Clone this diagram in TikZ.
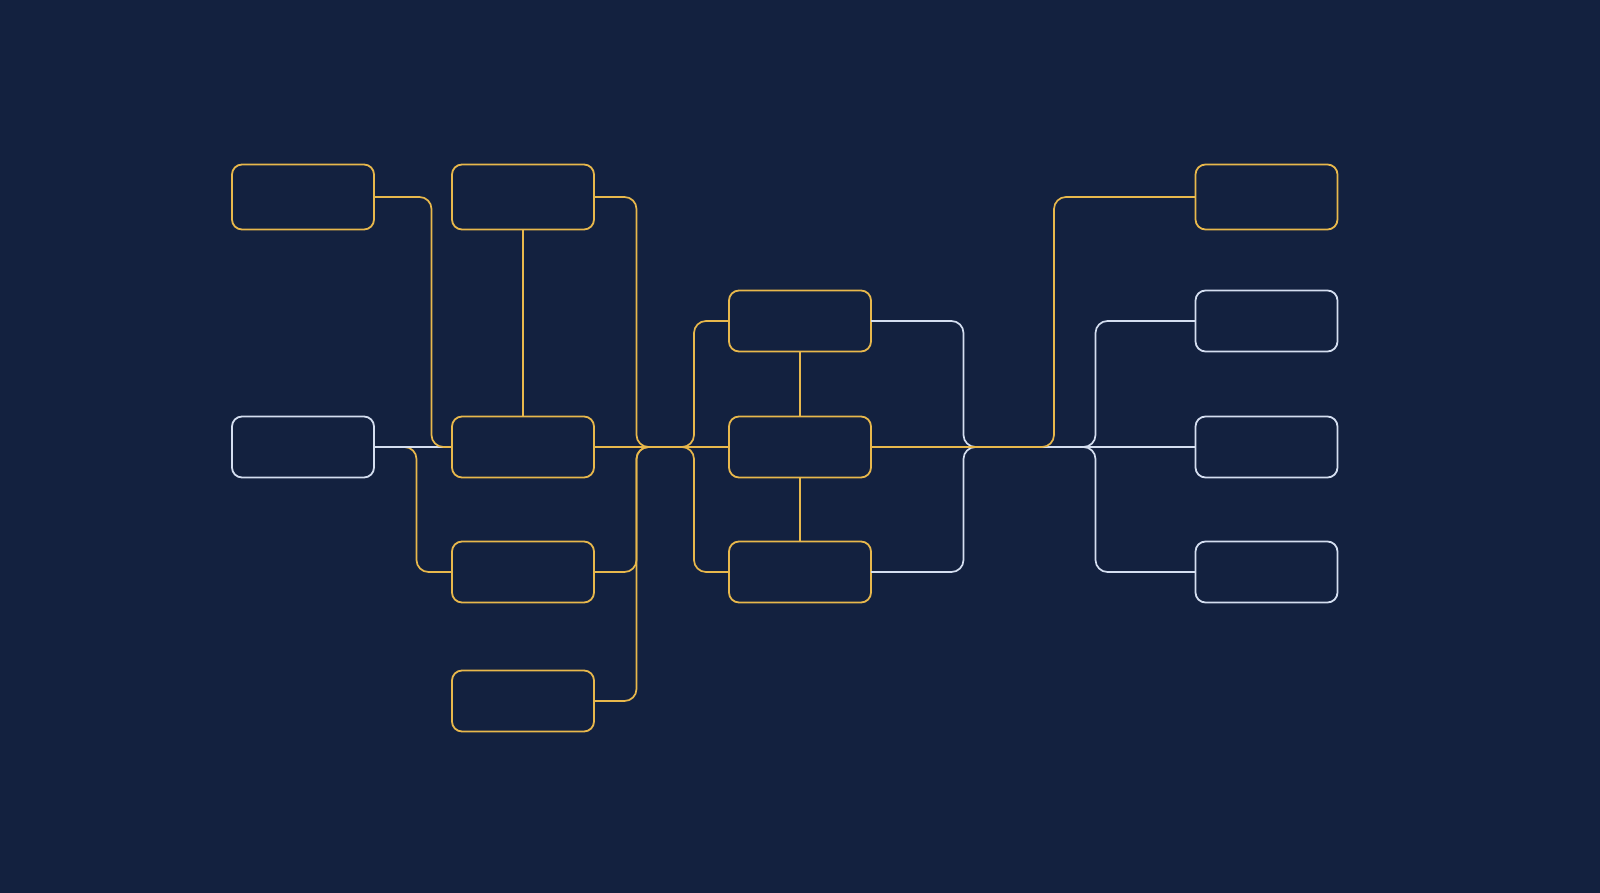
\documentclass[tikz,border=0pt]{standalone}
\usetikzlibrary{calc}
\definecolor{bgc}{HTML}{13213F}
\definecolor{goldc}{HTML}{E8B84C}
\definecolor{whitec}{HTML}{D4DEF0}
\begin{document}
\begin{tikzpicture}[x=1pt,y=-1pt,
  box/.style={rectangle, rounded corners=10pt, minimum width=142pt, minimum height=61pt,
    inner sep=0pt, outer sep=0pt, line width=1.8pt, fill=bgc},
  ybox/.style={box, draw=goldc},
  wbox/.style={box, draw=whitec},
  tall/.style={minimum height=65pt},
  yl/.style={draw=goldc, line width=1.7pt, rounded corners=12pt},
  wl/.style={draw=whitec, line width=1.7pt, rounded corners=12pt}]
\fill[bgc] (0,0) rectangle (1600,893);
\useasboundingbox (0,0) rectangle (1600,893);

% nodes
\node[ybox,tall] (A1) at (303,197) {};
\node[wbox] (A2) at (303,447) {};
\node[ybox,tall] (B1) at (523,197) {};
\node[ybox] (B2) at (523,447) {};
\node[ybox] (B3) at (523,572) {};
\node[ybox] (B4) at (523,701) {};
\node[ybox] (C1) at (800,321) {};
\node[ybox] (C2) at (800,447) {};
\node[ybox] (C3) at (800,572) {};
\node[ybox,tall] (D1) at (1266.5,197) {};
\node[wbox] (D2) at (1266.5,321) {};
\node[wbox] (D3) at (1266.5,447) {};
\node[wbox] (D4) at (1266.5,572) {};

% left connectors
\draw[yl] (B3.west) -- ++(-35.5,0) |- ($(A2.east)+(26,0)$);
\draw[wl] (A2.east) -- (B2.west);
\draw[yl] (A1.east) -- ++(57.5,0) |- (B2.west);
\draw[yl] (B1) -- (B2);

% middle-left connectors
\draw[yl] (B1.east) -- ++(42.5,0) |- (C2.west);
\draw[yl] (B4.east) -- ++(42.5,0) |- (C2.west);
\draw[yl] (B3.east) -- ++(42.5,0) |- (C2.west);
\draw[yl] (C1.west) -- ++(-35,0) |- (B2.east);
\draw[yl] (C3.west) -- ++(-35,0) |- (B2.east);
\draw[yl] (B2) -- (C2);
\draw[yl] (C1) -- (C2);
\draw[yl] (C2) -- (C3);

% right connectors
\draw[wl] (C1.east) -- ++(92.5,0) |- (D3.west);
\draw[wl] (C3.east) -- ++(92.5,0) |- (D3.west);
\draw[wl] (D2.west) -- ++(-100,0) |- (C2.east);
\draw[wl] (D4.west) -- ++(-100,0) |- (C2.east);
\draw[yl] (C2.east) -- ++(183,0) |- (D1.west);
\end{tikzpicture}
\end{document}
